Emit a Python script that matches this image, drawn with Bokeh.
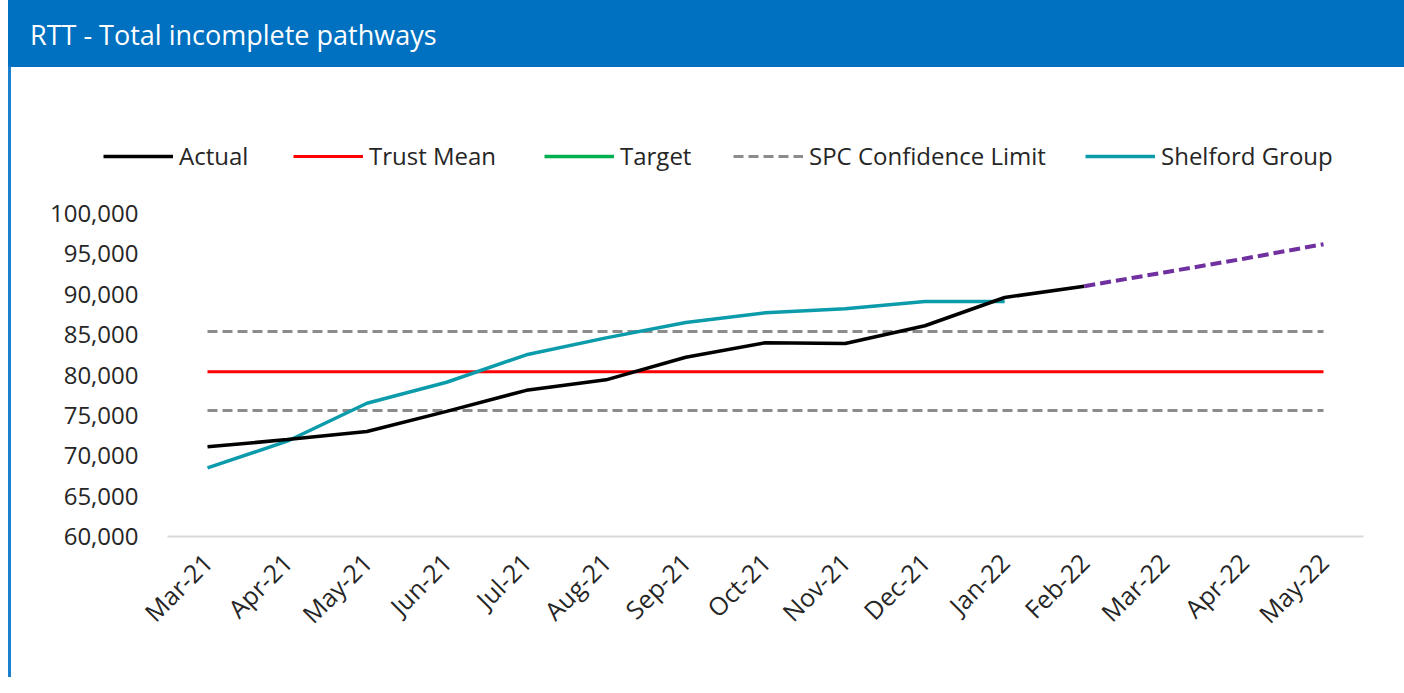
import math
from bokeh.plotting import figure
from bokeh.models import (Div, Legend, LegendItem, FixedTicker, NumeralTickFormatter, Range1d)
from bokeh.layouts import column, row
from bokeh.embed import file_html
from bokeh.resources import INLINE

# ---------------- data ----------------
months = ["Mar-21", "Apr-21", "May-21", "Jun-21", "Jul-21", "Aug-21", "Sep-21",
          "Oct-21", "Nov-21", "Dec-21", "Jan-22", "Feb-22", "Mar-22", "Apr-22", "May-22"]
actual = [71100, 72000, 73000, 75500, 78100, 79400, 82200, 84000, 83900, 86100, 89600, 91000]
shelford = [68500, 71800, 76500, 79100, 82500, 84600, 86500, 87700, 88200, 89100, 89100]
forecast_start = 11          # forecast starts at Feb-22
forecast = [91000, 92700, 94400, 96200]
trust_mean = 80400
spc_upper = 85400
spc_lower = 75600
y_ticks = [60000, 65000, 70000, 75000, 80000, 85000, 90000, 95000, 100000]

FONT = "Open Sans"
TXT = "#262626"

# ---------------- layout geometry (pixels) ----------------
LEFT_PAD = 8
HEADER_H = 67
W, H = 1393, 610
frame_left = 79            # figure px
frame_bottom = 469         # figure px from top
first_x, last_x = 196, 1312  # figure px of first / last month
frame_right = 1353
y_min, y_top_tick = 60000, 100000
px_per_y = 323 / (y_top_tick - y_min)
n = len(months)
px_per_x = (last_x - first_x) / (n - 1)
x_start = -(first_x - frame_left) / px_per_x
x_end = (n - 1) + (frame_right - last_x) / px_per_x
y_end = y_min + frame_bottom / px_per_y

p = figure(width=W, height=H, output_backend="svg", toolbar_location=None,
           x_range=Range1d(x_start, x_end), y_range=Range1d(y_min, y_end),
           min_border_left=frame_left, min_border_right=W - frame_right,
           min_border_top=0, min_border_bottom=H - frame_bottom)
p.outline_line_color = None
p.grid.grid_line_color = None

idx = list(range(n))
r_upper = p.line(idx, [spc_upper] * n, line_color="#8C8C8C", line_width=3, line_dash="10 5")
r_lower = p.line(idx, [spc_lower] * n, line_color="#8C8C8C", line_width=3, line_dash="10 5")
r_mean = p.line(idx, [trust_mean] * n, line_color="#FF0000", line_width=3)
r_target = p.line(x=[0], y=[float("nan")], line_color="#00B050", line_width=3.5)
r_shel = p.line(idx[:len(shelford)], shelford, line_color="#0B9BAA", line_width=3.5)
r_act = p.line(idx[:len(actual)], actual, line_color="#000000", line_width=3.5)
p.line(idx[forecast_start:forecast_start + len(forecast)], forecast,
       line_color="#7030A0", line_width=4, line_dash="11 5")

# axes
p.yaxis.ticker = FixedTicker(ticks=y_ticks)
p.yaxis.formatter = NumeralTickFormatter(format="0,0")
p.yaxis.axis_line_color = None
p.yaxis.major_tick_line_color = None
p.yaxis.minor_tick_line_color = None
p.yaxis.major_tick_out = 0
p.yaxis.major_tick_in = 0
p.yaxis.major_label_standoff = -48
p.yaxis.major_label_text_font = FONT
p.yaxis.major_label_text_font_size = "24px"
p.yaxis.major_label_text_color = TXT

p.xaxis.ticker = FixedTicker(ticks=idx)
p.xaxis.major_label_overrides = {i: m for i, m in enumerate(months)}
p.xaxis.bounds = (-0.5, n - 0.5)
p.xaxis.axis_line_color = "#D9D9D9"
p.xaxis.axis_line_width = 2
p.xaxis.major_tick_line_color = None
p.xaxis.minor_tick_line_color = None
p.xaxis.major_tick_out = 0
p.xaxis.major_tick_in = 0
p.xaxis.major_label_orientation = math.pi / 4
p.xaxis.major_label_standoff = 21
p.xaxis.major_label_text_font = FONT
p.xaxis.major_label_text_font_size = "25px"
p.xaxis.major_label_text_color = TXT

# legends (one per entry, positioned like the reference)
entries = [("Actual", r_act, 13), ("Trust Mean", r_mean, 203), ("Target", r_target, 454),
           ("SPC Confidence Limit", r_upper, 643), ("Shelford Group", r_shel, 995)]
for label, rend, lx in entries:
    lg = Legend(items=[LegendItem(label=label, renderers=[rend])],
                location=(lx, 364), orientation="horizontal",
                border_line_color=None, background_fill_alpha=0,
                padding=0, margin=0, glyph_width=70, glyph_height=24,
                label_height=24, label_standoff=6,
                label_text_font=FONT, label_text_font_size="24px",
                label_text_color=TXT)
    p.add_layout(lg)

header = Div(text="RTT - Total incomplete pathways", width=W + 3, height=HEADER_H,
             styles={"background-color": "#0070C0", "color": "white",
                     "font-family": FONT, "font-size": "27px",
                     "padding-left": "22px", "line-height": "70px",
                     "box-sizing": "border-box", "margin": "0", "overflow": "hidden"})
border = Div(text="", width=3, height=H, styles={"background-color": "#1A80D0", "margin": "0"})
spacer = Div(text="", width=LEFT_PAD, height=HEADER_H + H, styles={"margin": "0"})

layout = row(spacer, column(header, row(border, p, spacing=0), spacing=0), spacing=0)

open("out.html", "w").write(file_html(layout, INLINE))
